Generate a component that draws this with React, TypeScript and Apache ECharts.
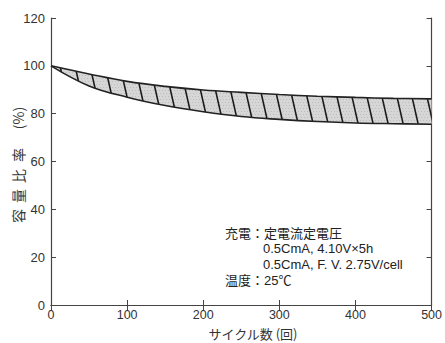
import React, { useEffect, useRef } from "react";
import * as echarts from "echarts";

const cycles = ["0", "50", "100", "150", "200", "250", "300", "350", "400", "450", "500"];
const upper = [100, 96.6, 93.5, 91.4, 89.9, 88.9, 88.0, 87.3, 86.8, 86.4, 86.2];
const lower = [100, 91.6, 86.9, 83.4, 80.8, 78.8, 77.6, 76.7, 76.1, 75.8, 75.6];
const yTicks = [0, 20, 40, 60, 80, 100, 120];
const yNameParts = ["容", "量", "比", "率", "(%)"];
const annotation = [
  "充電：定電流定電圧",
  "0.5CmA, 4.10V×5h",
  "0.5CmA, F. V. 2.75V/cell",
  "温度：25℃",
];

function makePattern(): string {
  const c = document.createElement("canvas");
  const w = 15;
  const h = 66;
  c.width = w;
  c.height = h;
  const ctx = c.getContext("2d")!;
  ctx.fillStyle = "#d6d6d6";
  ctx.fillRect(0, 0, w, h);
  ctx.fillStyle = "#bdbdbd";
  for (let y = 0; y < h; y += 3) {
    for (let x = (y / 3) % 2 ? 1 : 0; x < w; x += 3) ctx.fillRect(x, y, 1, 1);
  }
  ctx.strokeStyle = "#1a1a1a";
  ctx.lineWidth = 1.6;
  for (const off of [-w, 0, w]) {
    ctx.beginPath();
    ctx.moveTo(off, 0);
    ctx.lineTo(off + w, h);
    ctx.stroke();
  }
  return c.toDataURL();
}

export default function App() {
  const ref = useRef<HTMLDivElement>(null);
  useEffect(() => {
    const chart = echarts.init(ref.current!, null, { renderer: "svg" });
    const pattern = makePattern();
    const diff = upper.map((u, i) => +(u - lower[i]).toFixed(2));
    const axisLine = { show: true, lineStyle: { color: "#444", width: 1.2 } };
    const tick = { inside: true, length: 5, lineStyle: { color: "#444", width: 1 } };
    const labelFont = { fontFamily: "Liberation Sans, Arial", fontSize: 13, color: "#333" };
    const yPos = [216, 196, 176, 155, 118];
    const annX = [225, 263, 263, 225];
    chart.setOption({
      animation: false,
      grid: { left: 51, right: 10, top: 18, bottom: 38 },
      xAxis: [
        {
          type: "category", data: cycles, boundaryGap: false, position: "bottom",
          axisLine, axisTick: { ...tick, interval: 1 }, splitLine: { show: false },
          axisLabel: { ...labelFont, fontSize: 12.5, margin: 4, interval: 1, lineHeight: 12.5 },
        },
        {
          type: "value", min: 0, max: 500, interval: 100, position: "top",
          axisLine, axisTick: tick, splitLine: { show: false }, axisLabel: { show: false },
        },
      ],
      yAxis: [
        {
          type: "value", min: 0, max: 120, interval: 20, position: "left",
          axisLine, axisTick: tick, splitLine: { show: false },
          axisLabel: { ...labelFont, margin: 6, formatter: (v: number) => (yTicks.includes(v) ? String(v) : "") },
        },
        {
          type: "value", min: 0, max: 120, interval: 20, position: "right",
          axisLine, axisTick: tick, splitLine: { show: false }, axisLabel: { show: false },
        },
      ],
      series: [
        {
          type: "line", stack: "band", smooth: 0.4, showSymbol: false,
          xAxisIndex: 0, yAxisIndex: 0,
          data: lower,
          lineStyle: { color: "#222", width: 1.6 },
        },
        {
          type: "line", stack: "band", smooth: 0.4, showSymbol: false,
          xAxisIndex: 0, yAxisIndex: 0,
          data: diff,
          lineStyle: { color: "#222", width: 1.6 },
          areaStyle: { color: { image: pattern, repeat: "repeat" }, opacity: 1 },
        },
      ],
      graphic: [
        ...yNameParts.map((t, i) => ({
          type: "text", x: 18, y: yPos[i], rotation: Math.PI / 2, z: 100,
          style: {
            text: t, fontSize: 14, fill: "#333",
            fontFamily: "Noto Sans CJK JP", align: "center", verticalAlign: "middle",
          },
        })),
        {
          type: "text", x: 253, y: 333, z: 100,
          style: {
            text: "サイクル数 (回)", fontSize: 13, lineHeight: 13, fill: "#333",
            fontFamily: "Noto Sans CJK JP", align: "center", verticalAlign: "middle",
          },
        },
        ...annotation.map((t, i) => ({
          type: "text", x: annX[i], y: 233 + i * 15.8, z: 100,
          style: {
            text: t, fontSize: 13, fill: "#222",
            fontFamily: "Liberation Sans, Noto Sans CJK JP", align: "left", verticalAlign: "middle",
          },
        })),
      ],
    });
    return () => chart.dispose();
  }, []);
  return <div ref={ref} style={{ width: 445, height: 343, position: "absolute", left: 0, top: 0 }} />;
}
